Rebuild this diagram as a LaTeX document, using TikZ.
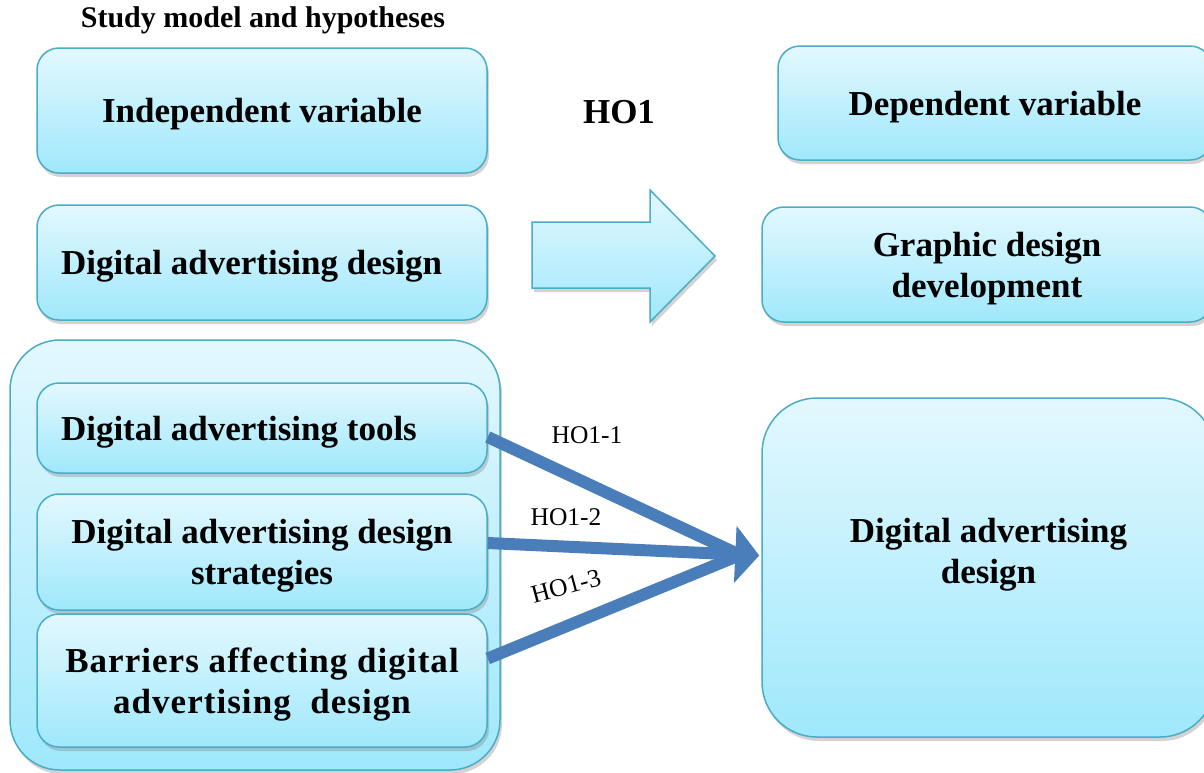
\documentclass[tikz,border=0pt]{standalone}
\usepackage{fontspec}
\setmainfont{Liberation Serif}
\usetikzlibrary{arrows.meta,shadows,positioning}
\definecolor{boxtop}{HTML}{E3F8FE}
\definecolor{boxbot}{HTML}{9FE8FC}
\definecolor{boxline}{HTML}{4BACC6}
\definecolor{arrowblue}{HTML}{4A7EBB}
\tikzset{
  boxtext/.style={align=center, text depth=0pt, font=\fontsize{35}{41}\selectfont\bfseries},
  varbox/.style={boxtext, draw=boxline, line width=1.5pt, rounded corners=22pt,
    top color=boxtop, bottom color=boxbot, inner sep=0pt,
    drop shadow={shadow xshift=2pt, shadow yshift=-4pt, opacity=.35}},
  hyp/.style={font=\fontsize{25.5}{30}\selectfont},
  hoarrow/.style={draw=arrowblue, line width=12pt},
}
\begin{document}
\begin{tikzpicture}[x=1pt,y=-1pt]
\useasboundingbox (0,0) rectangle (1204,772);

\node[font=\fontsize{30}{34}\selectfont\bfseries] (title) at (263,20) {Study model and hypotheses};

%top row
\node[varbox, minimum width=450pt, minimum height=125pt] (indep) at (262,110.5) {Independent variable};
\node[font=\fontsize{35}{40}\selectfont\bfseries] (ho) at (619,112) {HO1};
\node[varbox, minimum width=434pt, minimum height=114pt] (dep) at (995,103) {Dependent variable};

%second row
\node[varbox, minimum width=450pt, minimum height=115pt, text width=402pt, align=flush left] (dad) at (262,262.5) {Digital advertising design};
\shade[top color=boxtop, bottom color=boxbot, draw=boxline, line width=1.5pt,
  drop shadow={shadow xshift=2pt, shadow yshift=-4pt, opacity=.35}]
  (532,222) -- (650,222) -- (650,190) -- (715,256) -- (650,322) -- (650,288) -- (532,288) -- cycle;
\node[varbox, minimum width=450pt, minimum height=115pt] (gdd) at (987,264.5) {Graphic design\\development};

%group of dimensions
\node[varbox, rounded corners=50pt, minimum width=490pt, minimum height=430pt] (group) at (255,555) {};
\node[varbox, minimum width=450pt, minimum height=90pt, text width=402pt, align=flush left] (tools) at (262,428) {Digital advertising tools};
\node[varbox, minimum width=450pt, minimum height=116pt] (strat) at (262,552) {Digital advertising design\\strategies};
\node[varbox, minimum width=450pt, minimum height=133pt, font=\fontsize{35}{41}\selectfont\bfseries\addfontfeature{LetterSpace=3}] (barr) at (262,680.5) {Barriers affecting digital\\advertising\ \ design};

\node[varbox, rounded corners=55pt, minimum width=453pt, minimum height=339pt] (dadr) at (988.5,567.5) {};
\node[boxtext] (dadrtext) at ([yshift=17pt]dadr.center) {Digital advertising\\design};

%hypotheses
\coordinate (join) at (740,555);
\coordinate (tip) at ([xshift=-2pt,yshift=12pt]dadr.west);
\draw[hoarrow] ([yshift=-9pt]tools.east) -- (join);
\draw[hoarrow] ([yshift=22pt]barr.east) -- (join);
\draw[hoarrow, -{Triangle[length=24pt,width=56pt]}] ([yshift=9pt]strat.east) -- (tip);

\node[hyp] (h1) at (587,435) {HO1-1};
\node[hyp] (h2) at (566,517) {HO1-2};
\node[hyp, rotate=15] (h3) at (566,586) {HO1-3};
\end{tikzpicture}
\end{document}
